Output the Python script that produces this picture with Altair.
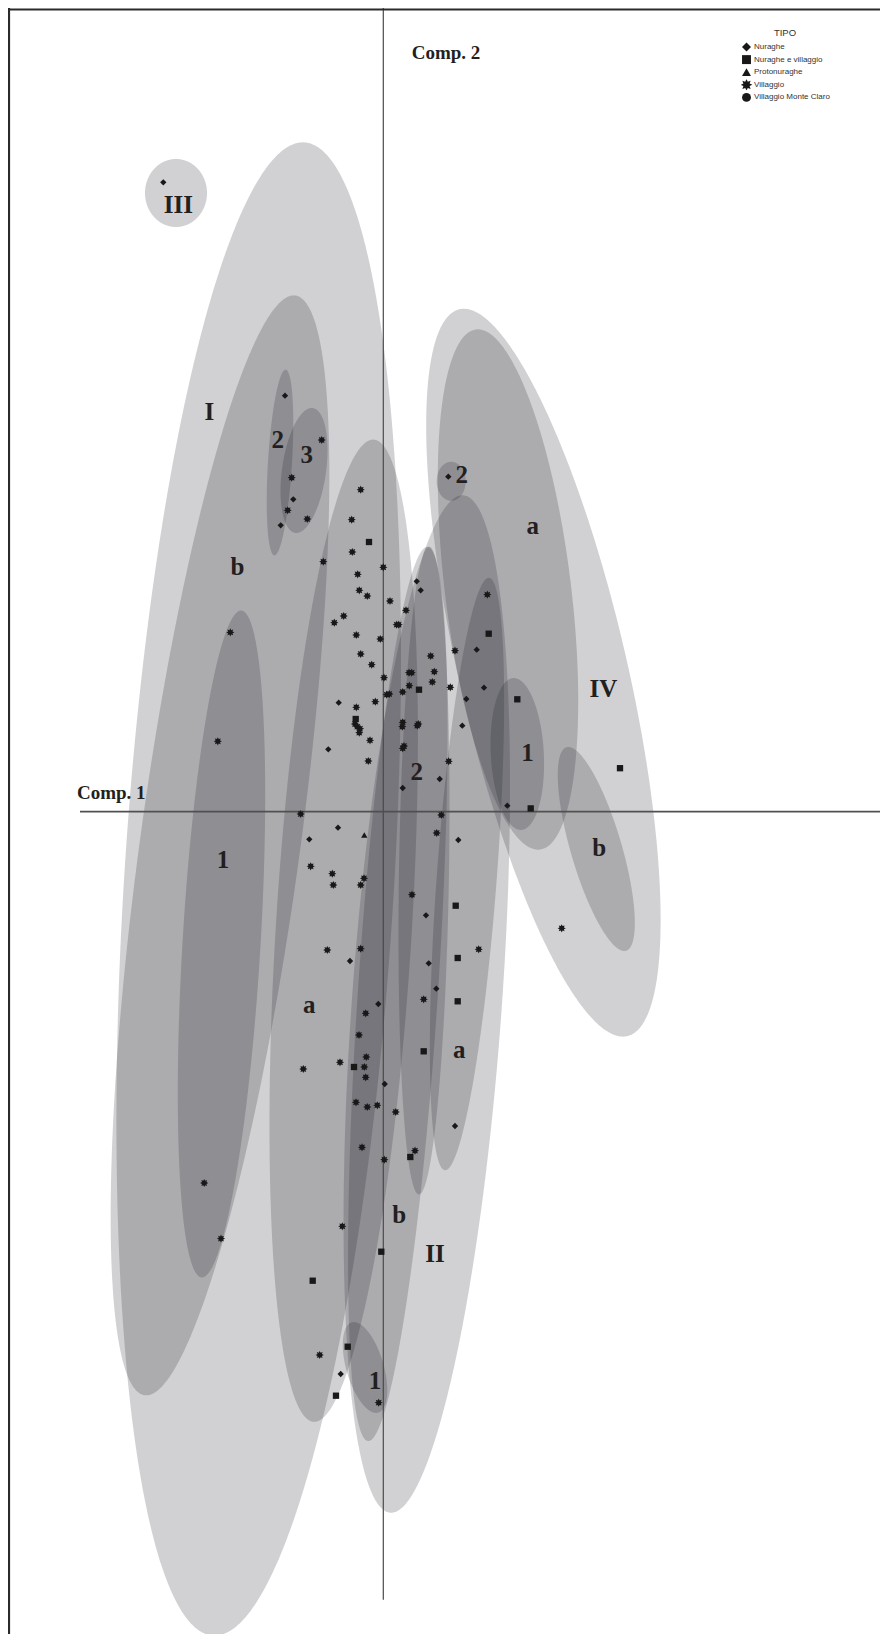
import altair as alt
import numpy as np
import pandas as pd

# ---------------- data (component scores) ----------------
TIPI = ["Nuraghe", "Nuraghe e villaggio", "Protonuraghe", "Villaggio", "Villaggio Monte Claro"]

vil_u = [-0.616, -0.916, -0.956, -0.76, -0.226, -0.316, -0.31, -0.60, 0.0, -0.256, -0.24, -0.16,
         0.067, 0.227, 0.134, 0.154, -0.396, -0.49, -0.27, -0.03, 1.04, 0.717, 0.474, -0.226,
         -0.116, 0.007, 0.257, 0.284, 0.51, 0.49, 0.26, 0.67, 0.194, 0.034, 0.06, -0.08, -0.27,
         -0.283, -0.26, -0.233, -0.24, 0.194, 0.19, 0.35, 0.34, -0.133, 0.207, 0.194, -0.15,
         0.654, -0.826, 0.58, 0.534, -1.53, -1.655, -0.726, -0.51, -0.193, -0.50, -0.226, 0.287,
         -0.56, -0.226, 0.954, 0.404, -0.176, -0.243, -0.17, -0.433, -0.80, -0.19, -0.176,
         -0.273, -0.16, -0.06, 0.124, -0.213, 0.01, 0.317, -0.41, -0.636, -0.046, -1.791,
         -1.623, 1.784]
vil_v = [3.717, 3.34, 3.014, 2.927, 3.22, 2.92, 2.597, 2.50, 2.444, 2.374, 2.214, 2.157,
         2.107, 2.014, 1.87, 1.87, 1.957, 1.89, 1.767, 1.727, 2.171, 1.61, 1.557, 1.577,
         1.47, 1.34, 1.39, 1.39, 1.40, 1.297, 1.26, 1.244, 1.197, 1.17, 1.177, 1.10, 1.044,
         0.877, 0.85, 0.83, 0.79, 0.894, 0.85, 0.877, 0.86, 0.714, 0.657, 0.634, 0.507,
         0.504, -0.023, -0.033, -0.213, 1.793, 0.704, -0.546, -0.62, -0.666, -0.733, -0.733, -0.83,
         -1.383, -1.37, -1.376, -1.876, -2.016, -2.233, -2.453, -2.506, -2.573, -2.553, -2.656,
         -2.906, -2.953, -2.936, -3.003, -3.356, -3.48, -3.39, -4.146, -5.433, -5.91, -3.713,
         -4.269, -1.166]

nur_u = [-2.20, -0.983, -0.90, -1.026, 0.65, 0.334, 0.374, 0.934, 1.007, 0.83, -0.446, 0.79,
         -0.55, 0.564, 0.194, 1.24, -0.453, -0.74, 0.75, 0.427, -0.333, 0.454, 0.53, -0.05,
         0.014, 0.717, -0.426]
nur_v = [6.294, 4.16, 3.124, 2.864, 3.35, 2.304, 2.214, 1.62, 1.24, 1.127, 1.09, 0.86,
         0.624, 0.327, 0.237, 0.06, -0.16, -0.276, -0.283, -1.036, -1.493, -1.516, -1.77, -1.923,
         -2.723, -3.143, -5.623]

nv_u = [-0.143, 1.054, 0.357, -0.276, 1.34, 2.367, 1.474, 0.724, 0.744, 0.744, 0.404, -0.293,
        0.27, -0.02, -0.706, -0.356, -0.473]
nv_v = [2.697, 1.78, 1.22, 0.927, 1.124, 0.435, 0.033, -0.94, -1.463, -1.896, -2.396, -2.553,
        -3.453, -4.40, -4.69, -5.35, -5.84]

pro_u = [-0.19]
pro_v = [-0.233]

# ellipses: centre, semi-axes, tilt of the long axis from vertical (deg, + = top to the right)
ell_id = ["III", "I", "I-b", "I-1", "I-2", "I-3", "II-a", "II", "II-a2", "II-2", "II-b", "II-1",
          "IV", "IV-a", "IV-2", "IV-1", "IV-b"]
ell_cu = [-2.073, -1.246, -1.633, -1.618, -1.033, -0.793, -0.396, 0.435, 0.837, 0.407, 0.145,
          -0.183, 1.601, 1.247, 0.679, 1.34, 2.13]
ell_cv = [6.187, -0.773, -0.337, -1.323, 3.492, 3.412, -1.19, -1.923, -0.623, -0.588, -1.823,
          -5.558, 1.39, 2.222, 3.304, 0.577, -0.373]
ell_a = [0.34, 7.48, 5.55, 3.34, 0.93, 0.63, 4.92, 5.10, 2.97, 3.24, 4.48, 0.47, 3.73, 2.62,
         0.195, 0.76, 1.06]
ell_b = [0.31, 1.35, 0.80, 0.39, 0.12, 0.22, 0.68, 0.75, 0.30, 0.25, 0.40, 0.186, 0.84, 0.63,
         0.145, 0.265, 0.255]
ell_tilt = [0, 3.5, 7.8, 3.4, 3.5, 8, 3.5, 4.1, 4.25, 0.9, 3.8, -16.4, -13, -7, 0, -3, -16.3]

lab_text = ["III", "I", "b", "2", "3", "1", "a", "2", "a", "b", "II", "1", "2", "a", "IV", "1", "b"]
lab_u = [-2.05, -1.74, -1.458, -1.056, -0.766, -1.603, -0.74, 0.334, 0.76, 0.16, 0.517, -0.083,
         0.784, 1.494, 2.20, 1.442, 2.16]
lab_v = [5.984, 3.917, 2.367, 3.634, 3.49, -0.563, -2.01, 0.317, -2.466, -4.116, -4.50, -5.776,
         3.29, 2.777, 1.15, 0.507, -0.446]

axis_text = ["Comp. 1", "Comp. 2"]
axis_text_u = [-3.063, 0.284]
axis_text_v = [0.127, 7.524]

# ---------------- frame / scales ----------------
W, H = 872, 1626
X0 = -3.753
X1 = X0 + W / 100
Y1 = 8.037
Y0 = Y1 - H / 100
xs = alt.Scale(domain=[X0, X1], nice=False, zero=False)
ys = alt.Scale(domain=[Y0, Y1], nice=False, zero=False)

# ellipse outlines as horizontal bands
rows = []
for name, cu, cv, a, b, ang in zip(ell_id, ell_cu, ell_cv, ell_a, ell_b, ell_tilt):
    t = np.radians(ang)
    s, c = np.sin(t), np.cos(t)
    A = s * s / a ** 2 + c * c / b ** 2
    vmax = np.sqrt(a * a * c * c + b * b * s * s)
    for k, phi in enumerate(np.linspace(0, np.pi, 241)):
        dv = vmax * np.cos(phi)
        B = 2 * dv * s * c * (1 / a ** 2 - 1 / b ** 2)
        C = dv * dv * (c * c / a ** 2 + s * s / b ** 2) - 1
        r = np.sqrt(max(B * B - 4 * A * C, 0.0))
        rows.append({"e": name, "v": float(cv + dv),
                     "ul": float(cu + (-B - r) / (2 * A)), "ur": float(cu + (-B + r) / (2 * A))})
ell_df = pd.DataFrame(rows)

pts = pd.concat([
    pd.DataFrame({"u": nur_u, "v": nur_v, "tipo": TIPI[0]}),
    pd.DataFrame({"u": nv_u, "v": nv_v, "tipo": TIPI[1]}),
    pd.DataFrame({"u": pro_u, "v": pro_v, "tipo": TIPI[2]}),
    pd.DataFrame({"u": vil_u, "v": vil_v, "tipo": TIPI[3]}),
], ignore_index=True)

labels = pd.DataFrame({"t": lab_text, "u": lab_u, "v": lab_v})
axis_lab = pd.DataFrame({"t": axis_text, "u": axis_text_u, "v": axis_text_v})

# component axes and frame, in data units
lines = pd.DataFrame({
    "name": ["comp2", "comp1", "top", "left"],
    "x1": [0.0, -3.033, X0, X0 + 0.01],
    "x2": [0.0, X1, X1, X0 + 0.01],
    "y1": [Y1, 0.0, Y1 - 0.015, Y0],
    "y2": [-7.88, 0.0, Y1 - 0.015, Y1],
    "w": [1.2, 1.7, 2.0, 2.2],
    "col": ["#4a4a4a", "#505050", "#2b2b2b", "#2b2b2b"],
})

# 8-pointed burst symbol
star_pts = []
for i in range(16):
    ang = np.pi * i / 8
    rr = 1.3 if i % 2 == 0 else 0.75
    star_pts.append(f"{rr * np.sin(ang):.3f},{-rr * np.cos(ang):.3f}")
STAR = "M" + "L".join(star_pts) + "Z"

ellipses = alt.Chart(ell_df).mark_area(
    orient="horizontal", color="#181b24", opacity=0.2
).encode(
    y=alt.Y("v:Q", scale=ys, axis=None),
    x=alt.X("ul:Q", scale=xs, axis=None, stack=None),
    x2="ur:Q",
    detail="e:N",
)

rules = alt.Chart(lines).mark_rule().encode(
    x=alt.X("x1:Q", scale=xs, axis=None),
    x2="x2:Q",
    y=alt.Y("y1:Q", scale=ys, axis=None),
    y2="y2:Q",
    strokeWidth=alt.StrokeWidth("w:Q", scale=None),
    color=alt.Color("col:N", scale=None),
)

points = alt.Chart(pts).mark_point(filled=True, color="#1a1718", opacity=1, size=40).encode(
    x=alt.X("u:Q", scale=xs, axis=None),
    y=alt.Y("v:Q", scale=ys, axis=None),
    shape=alt.Shape(
        "tipo:N",
        scale=alt.Scale(domain=TIPI, range=["diamond", "square", "triangle-up", STAR, "circle"]),
        legend=alt.Legend(
            title="TIPO", orient="none", legendX=733, legendY=20,
            titleFont="Liberation Sans", titleFontSize=9.5, titleFontWeight="normal",
            titleColor="#333333", titleAnchor="middle", titlePadding=4,
            labelFont="Liberation Sans", labelFontSize=8, labelColor="#333333",
            labelOffset=2, symbolSize=80, rowPadding=1.6, clipHeight=11, padding=0,
            symbolFillColor="#111111", symbolOpacity=1,
        ),
    ),
)

texts = alt.Chart(labels).mark_text(
    font="Liberation Serif", fontWeight="bold", fontSize=25, color="#231f20",
    align="center", baseline="alphabetic",
).encode(x=alt.X("u:Q", scale=xs, axis=None), y=alt.Y("v:Q", scale=ys, axis=None), text="t:N")

axis_texts = alt.Chart(axis_lab).mark_text(
    font="Liberation Serif", fontWeight="bold", fontSize=19, color="#231f20",
    align="left", baseline="alphabetic",
).encode(x=alt.X("u:Q", scale=xs, axis=None), y=alt.Y("v:Q", scale=ys, axis=None), text="t:N")

chart = alt.layer(
    ellipses, rules, points, texts, axis_texts
).properties(
    width=W, height=H, padding=0, autosize="none", background="white"
).configure_view(stroke=None)

chart.save("out.html", embed_options={"renderer": "svg", "actions": False})
